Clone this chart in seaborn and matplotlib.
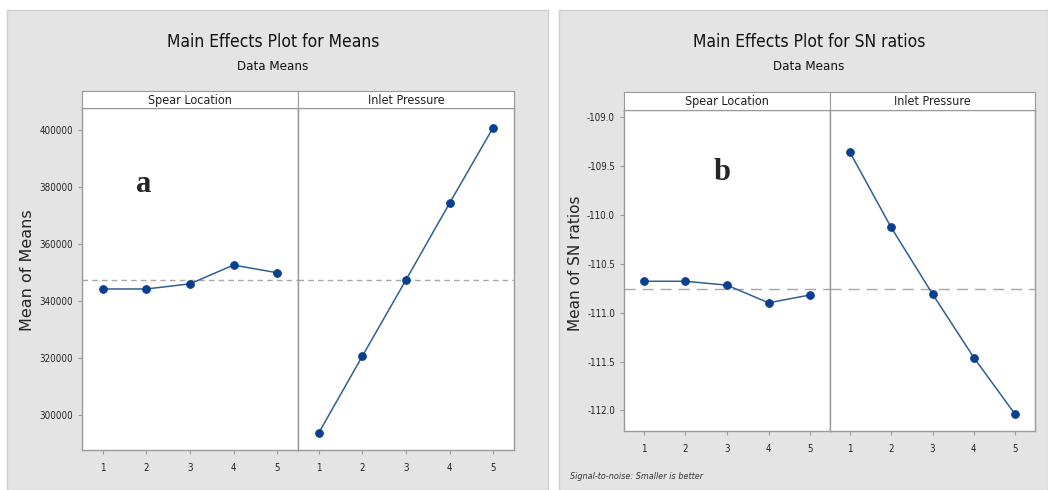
import numpy as np
import pandas as pd
import seaborn as sns
import matplotlib.pyplot as plt
import matplotlib.ticker as ticker
from matplotlib.patches import Rectangle

sns.set_style("white")
plt.rcParams["font.family"] = ["DejaVu Sans"]
plt.rcParams["font.stretch"] = "condensed"
plt.rcParams["axes.unicode_minus"] = False

W, H = 1048, 490

levels = [1, 2, 3, 4, 5]
factors = ["Spear Location", "Inlet Pressure"]

means_spear = [344200, 344200, 346000, 352600, 349900]
means_inlet = [293800, 320700, 347400, 374300, 400800]
sn_spear = [-110.68, -110.68, -110.72, -110.90, -110.82]
sn_inlet = [-109.36, -110.13, -110.81, -111.46, -112.04]

means_ticks = [300000, 320000, 340000, 360000, 380000, 400000]
sn_ticks = [-112.0, -111.5, -111.0, -110.5, -110.0, -109.5, -109.0]

LINE = "#2f5f94"
DOT = "#0a3f8f"
FRAME = "#9a9a9a"
BG = "#e4e4e4"


def fig_rect(x0, y0, x1, y1):
    # pixel box (top-left origin) -> figure fraction
    return [x0 / W, 1 - y1 / H, (x1 - x0) / W, (y1 - y0) / H]


def long_frame(spear, inlet):
    return pd.DataFrame({
        "factor": [factors[0]] * 5 + [factors[1]] * 5,
        "level": levels * 2,
        "value": spear + inlet,
    })


def main_effects(fig, df, x0, xm, x1, ytop, ybot, strip_top, ylim, yticks, fmt, dash):
    grand = df["value"].mean()
    axes = []
    for i, (fac, (a, b)) in enumerate(zip(factors, [(x0, xm), (xm, x1)])):
        ax = fig.add_axes(fig_rect(a, ytop, b, ybot))
        sub = df[df["factor"] == fac]
        sns.lineplot(data=sub, x="level", y="value", ax=ax, color=LINE,
                     linewidth=1.1, marker="o", markersize=5.5,
                     markerfacecolor=DOT, markeredgecolor=DOT)
        ax.axhline(grand, color="#a8a8a8", ls=dash, lw=1, zorder=0)
        ax.set_xlim(0.52, 5.48)
        ax.set_ylim(ylim)
        ax.set_xticks(levels)
        ax.set_yticks(yticks)
        ax.yaxis.set_major_formatter(ticker.FormatStrFormatter(fmt))
        ax.set_xlabel("")
        ax.set_ylabel("")
        ax.tick_params(axis="both", length=3, color=FRAME, labelsize=7,
                       labelcolor="#222222", direction="out", bottom=True, left=(i == 0))
        ax.tick_params(axis="x", pad=6)
        if i == 1:
            ax.set_yticklabels([])
            ax.tick_params(axis="y", left=False)
        for s in ax.spines.values():
            s.set_color(FRAME)
            s.set_linewidth(1)
        ax.set_facecolor("white")
        # facet strip
        st = fig.add_axes(fig_rect(a, strip_top, b, ytop))
        st.set_xticks([])
        st.set_yticks([])
        st.set_facecolor("white")
        for s in st.spines.values():
            s.set_color(FRAME)
        st.text(0.5, 0.45, fac, ha="center", va="center", fontsize=9,
                color="#222222", transform=st.transAxes)
        axes.append(ax)
    return axes


fig = plt.figure(figsize=(W / 100, H / 100), dpi=100, facecolor="white")

# grey panel backgrounds
fig.add_artist(Rectangle((7 / W, 0), (548 - 7) / W, 1 - 10 / H,
                         transform=fig.transFigure, facecolor=BG,
                         edgecolor="#d0d0d0", zorder=0))
fig.add_artist(Rectangle((559 / W, 0), (1048 - 559) / W, 1 - 10 / H,
                         transform=fig.transFigure, facecolor=BG,
                         edgecolor="#d0d0d0", zorder=0))

df_means = long_frame(means_spear, means_inlet)
df_sn = long_frame(sn_spear, sn_inlet)

ax_a = main_effects(fig, df_means, 82, 298, 514, 108, 450, 91,
                    (287700, 407700), means_ticks, "%d", (0, (4, 3)))
ax_b = main_effects(fig, df_sn, 624, 830, 1035, 110, 431, 92,
                    (-112.21, -108.93), sn_ticks, "%.1f", (0, (8, 5)))

# titles
fig.text(273 / W, 1 - 42 / H, "Main Effects Plot for Means", ha="center",
         va="center", fontsize=12.5, color="#111111")
fig.text(273 / W, 1 - 67 / H, "Data Means", ha="center", va="center",
         fontsize=9.5, color="#111111")
fig.text(809 / W, 1 - 42 / H, "Main Effects Plot for SN ratios", ha="center",
         va="center", fontsize=12.5, color="#111111")
fig.text(809 / W, 1 - 67 / H, "Data Means", ha="center", va="center",
         fontsize=9.5, color="#111111")

# y labels
fig.text(28 / W, 1 - 270 / H, "Mean of Means", rotation=90, ha="center",
         va="center", fontsize=11.5, fontstretch="normal", color="#222222")
fig.text(576 / W, 1 - 263 / H, "Mean of SN ratios", rotation=90, ha="center",
         va="center", fontsize=11, fontstretch="normal", color="#222222")

# panel letters
fig.text(144 / W, 1 - 184 / H, "a", ha="center", va="center", fontsize=22,
         fontweight="bold", family=["Liberation Serif", "DejaVu Serif"])
fig.text(722 / W, 1 - 173 / H, "b", ha="center", va="center", fontsize=22,
         fontweight="bold", family=["Liberation Serif", "DejaVu Serif"])

fig.text(570 / W, 1 - 476 / H, "Signal-to-noise: Smaller is better", ha="left",
         va="center", fontsize=6.5, style="italic", color="#333333")

fig.savefig("out.png", dpi=100, facecolor="white")
